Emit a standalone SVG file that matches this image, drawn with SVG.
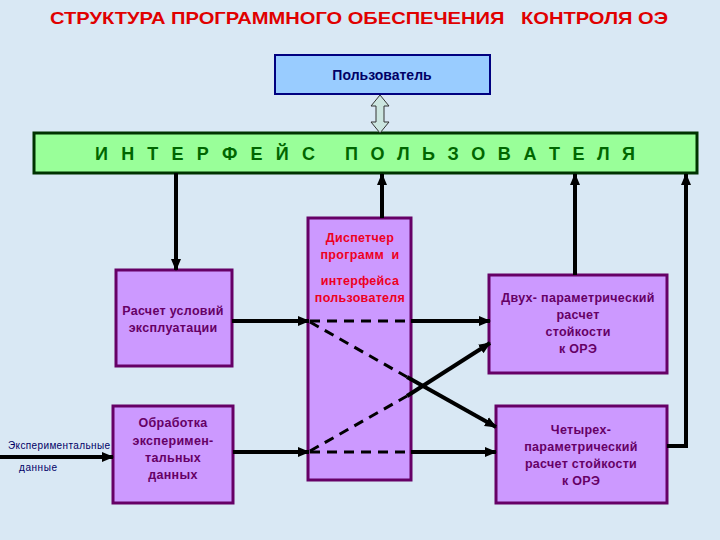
<svg xmlns="http://www.w3.org/2000/svg" width="720" height="540" viewBox="0 0 720 540">
<style>
text{white-space:pre}
.t{font-family:"Liberation Sans",Arial,sans-serif;font-weight:bold;text-anchor:middle}
.box{fill:#cc99ff;stroke:#660066;stroke-width:3}
.pt{fill:#660066;font-size:12.5px;letter-spacing:0.3px}
.rt{fill:#ee0022;font-size:12.5px;letter-spacing:0.3px}
.ig{font-family:"Liberation Sans",Arial,sans-serif;font-weight:bold;font-size:18px;fill:#006600}
.ln{stroke:#000;stroke-width:4;fill:none}
.dl{stroke:#000;stroke-width:3;fill:none;stroke-dasharray:10 7}
</style>
<defs>
<marker id="ah" markerUnits="userSpaceOnUse" markerWidth="12" markerHeight="12" viewBox="0 0 12 12" refX="11" refY="6" orient="auto">
<path d="M0,1 L12,6 L0,11 Z" fill="#000"/>
</marker>
</defs>
<rect width="720" height="540" fill="#d9e8f4"/>
<text class="t" x="359" y="24" font-size="17" fill="#e00000" textLength="618" lengthAdjust="spacingAndGlyphs" xml:space="preserve">СТРУКТУРА ПРОГРАММНОГО ОБЕСПЕЧЕНИЯ   КОНТРОЛЯ ОЭ</text>

<g id="user">
<rect x="275" y="55" width="215" height="39" fill="#99ccff" stroke="#000080" stroke-width="2"/>
<text class="t" x="382" y="80" font-size="14" fill="#000066">Пользователь</text>
</g>

<g id="interface">
<rect x="34" y="133" width="663" height="40" fill="#99ff99" stroke="#003300" stroke-width="3"/>
<text class="ig" x="95" y="160" textLength="220" lengthAdjust="spacing">И Н Т Е Р Ф Е Й С</text>
<text class="ig" x="345" y="160" textLength="290" lengthAdjust="spacing">П О Л Ь З О В А Т Е Л Я</text>
</g>

<g id="dispatcher">
<rect class="box" x="308" y="218" width="103" height="262"/>
<text class="t rt" x="360" y="242">Диспетчер</text>
<text class="t rt" x="360" y="259" xml:space="preserve">программ  и</text>
<text class="t rt" x="360" y="285">интерфейса</text>
<text class="t rt" x="360" y="302">пользователя</text>
</g>

<g id="conditions">
<rect class="box" x="116" y="270" width="116" height="96"/>
<text class="t pt" x="173" y="315">Расчет условий</text>
<text class="t pt" x="173" y="332">эксплуатации</text>
</g>

<g id="processing">
<rect class="box" x="113" y="406" width="120" height="97"/>
<text class="t pt" x="173" y="427">Обработка</text>
<text class="t pt" x="173" y="445">эксперимен-</text>
<text class="t pt" x="173" y="462">тальных</text>
<text class="t pt" x="173" y="479">данных</text>
</g>

<g id="two-param">
<rect class="box" x="489" y="275" width="178" height="98"/>
<text class="t pt" x="578" y="302">Двух- параметрический</text>
<text class="t pt" x="578" y="319">расчет</text>
<text class="t pt" x="578" y="336">стойкости</text>
<text class="t pt" x="578" y="353">к ОРЭ</text>
</g>

<g id="four-param">
<rect class="box" x="496" y="406" width="171" height="97"/>
<text class="t pt" x="581" y="434">Четырех-</text>
<text class="t pt" x="581" y="451">параметрический</text>
<text class="t pt" x="581" y="468">расчет стойкости</text>
<text class="t pt" x="581" y="485">к ОРЭ</text>
</g>

<g id="input-label">
<text x="59" y="449" font-family="'Liberation Sans',Arial,sans-serif" font-size="10" fill="#000066" text-anchor="middle" textLength="102" lengthAdjust="spacing">Экспериментальные</text>
<text x="38" y="471" font-family="'Liberation Sans',Arial,sans-serif" font-size="10" fill="#000066" text-anchor="middle" textLength="38" lengthAdjust="spacing">данные</text>
</g>

<g id="connectors">
<path d="M380,95 L389,106 L384,106 L384,122 L389,122 L380,133 L371,122 L376,122 L376,106 L371,106 Z" fill="#cce6e0" stroke="#333" stroke-width="1"/>
<line class="ln" x1="176" y1="173" x2="176" y2="270" marker-end="url(#ah)"/>
<line class="ln" x1="382" y1="218" x2="382" y2="174" marker-end="url(#ah)"/>
<line class="ln" x1="575" y1="275" x2="575" y2="174" marker-end="url(#ah)"/>
<polyline class="ln" points="667,446 686,446 686,174" marker-end="url(#ah)"/>
<line class="ln" x1="0" y1="457" x2="113" y2="457" marker-end="url(#ah)"/>
<line class="ln" x1="232" y1="321" x2="309" y2="321" marker-end="url(#ah)"/>
<line class="ln" x1="233" y1="452" x2="309" y2="452" marker-end="url(#ah)"/>
<line class="dl" x1="310" y1="321" x2="411" y2="321"/>
<line class="ln" x1="411" y1="321" x2="490" y2="321" marker-end="url(#ah)"/>
<line class="dl" x1="310" y1="452" x2="411" y2="452"/>
<line class="ln" x1="411" y1="452" x2="496" y2="452" marker-end="url(#ah)"/>
<line class="dl" x1="310" y1="322" x2="407" y2="377"/>
<line class="ln" x1="407" y1="377" x2="496" y2="427" marker-end="url(#ah)"/>
<line class="dl" x1="310" y1="451" x2="407" y2="396"/>
<line class="ln" x1="407" y1="396" x2="490" y2="343" marker-end="url(#ah)"/>
</g>
</svg>
